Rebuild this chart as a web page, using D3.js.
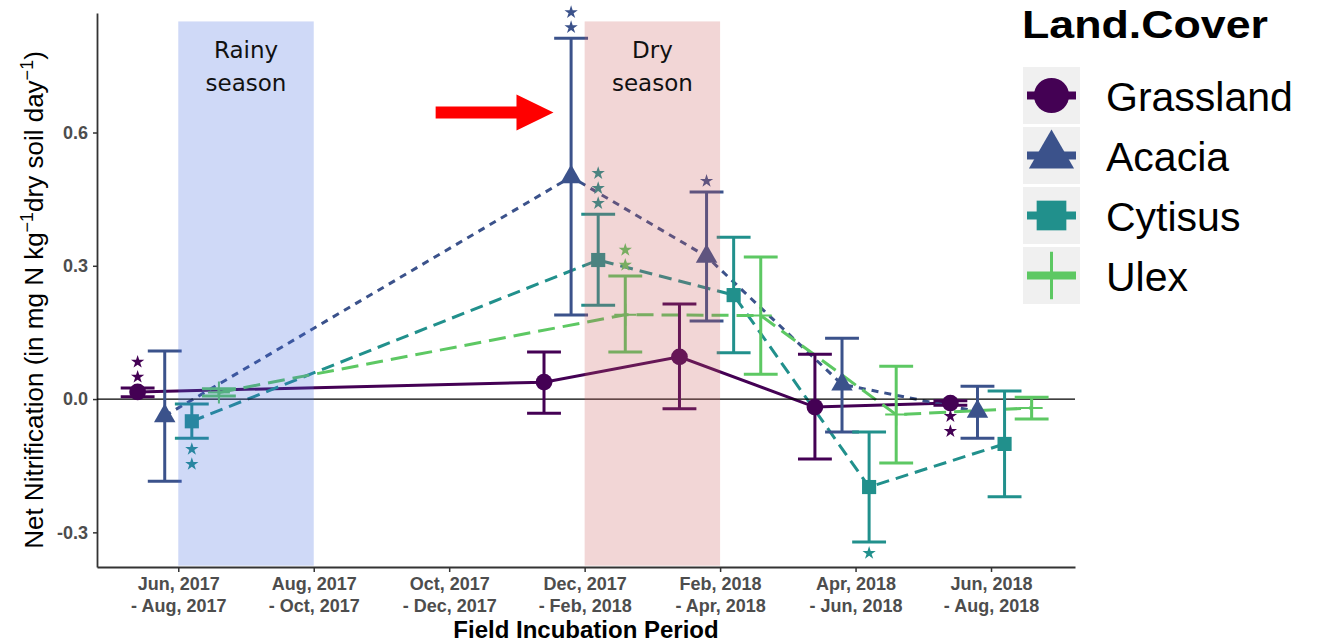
<!DOCTYPE html>
<html>
<head>
<meta charset="utf-8">
<script src="https://cdn.jsdelivr.net/npm/d3@7"></script>
<style>
  html, body { margin: 0; padding: 0; background: #ffffff; }
  svg { display: block; }
</style>
</head>
<body>
<svg id="chart" width="1319" height="643"></svg>
<script>
// Incubation periods (two-line tick labels)
const periodStart = ["Jun, 2017", "Aug, 2017", "Oct, 2017", "Dec, 2017", "Feb, 2018", "Apr, 2018", "Jun, 2018"];
const periodEnd = ["- Aug, 2017", "- Oct, 2017", "- Dec, 2017", "- Feb, 2018", "- Apr, 2018", "- Jun, 2018", "- Aug, 2018"];

// Periods that were actually sampled (index into the period arrays)
const sampledPeriods = [0, 3, 4, 5, 6];

const landCovers = ["Grassland", "Acacia", "Cytisus", "Ulex"];

// Mean net nitrification and error-bar bounds per sampled period
const grasslandMean = [0.016, 0.038, 0.095, -0.018, -0.009];
const grasslandLow  = [0.005, -0.032, -0.022, -0.135, -0.014];
const grasslandHigh = [0.025, 0.106, 0.214, 0.101, -0.004];

const acaciaMean = [-0.038, 0.500, 0.321, 0.033, -0.028];
const acaciaLow  = [-0.185, 0.189, 0.176, -0.074, -0.088];
const acaciaHigh = [0.108, 0.812, 0.466, 0.137, 0.029];

const cytisusMean = [-0.050, 0.313, 0.234, -0.198, -0.101];
const cytisusLow  = [-0.088, 0.211, 0.104, -0.322, -0.220];
const cytisusHigh = [-0.011, 0.416, 0.364, -0.074, 0.018];

const ulexMean = [0.015, 0.190, 0.188, -0.035, -0.020];
const ulexLow  = [0.007, 0.106, 0.056, -0.144, -0.045];
const ulexHigh = [0.023, 0.277, 0.320, 0.074, 0.004];

// Significance stars drawn above / below each error bar
const grasslandStarsAbove = [2, 0, 0, 0, 0];
const grasslandStarsBelow = [0, 0, 0, 0, 2];
const acaciaStarsAbove = [0, 2, 1, 0, 0];
const acaciaStarsBelow = [0, 0, 0, 0, 0];
const cytisusStarsAbove = [0, 3, 0, 0, 0];
const cytisusStarsBelow = [2, 0, 0, 1, 0];
const ulexStarsAbove = [0, 2, 0, 0, 0];
const ulexStarsBelow = [0, 0, 0, 0, 0];

// Seasons shaded on the time axis (period index span)
const seasonNames = [["Rainy", "season"], ["Dry", "season"]];
const seasonFrom = [0, 3];
const seasonTo = [1, 4];

const yTicks = [-0.3, 0.0, 0.3, 0.6];

// ---------------------------------------------------------------
const svg = d3.select("#chart");
const FONT = "'Liberation Sans', Arial, Helvetica, sans-serif";

const x = d3.scaleLinear().domain([-0.6, 6.62]).range([97, 1075]);
const y = d3.scaleLinear().domain([-0.378, 0.869]).range([567, 13]);

const colors = d3.scaleOrdinal().domain(landCovers)
  .range(["#440154", "#3B528B", "#21908C", "#5DC863"]);
const dashes = { Grassland: null, Acacia: "7,6", Cytisus: "13,7", Ulex: "17,8" };
const dodge = d3.scaleBand().domain(landCovers).range([-0.4, 0.4]);

function rows(name, mean, low, high, above, below) {
  return sampledPeriods.map((p, i) => ({
    name, period: p, mean: mean[i], low: low[i], high: high[i],
    above: above[i], below: below[i],
    px: p + dodge(name) + dodge.bandwidth() / 2
  }));
}
const series = [
  { name: "Grassland", values: rows("Grassland", grasslandMean, grasslandLow, grasslandHigh, grasslandStarsAbove, grasslandStarsBelow) },
  { name: "Acacia", values: rows("Acacia", acaciaMean, acaciaLow, acaciaHigh, acaciaStarsAbove, acaciaStarsBelow) },
  { name: "Cytisus", values: rows("Cytisus", cytisusMean, cytisusLow, cytisusHigh, cytisusStarsAbove, cytisusStarsBelow) },
  { name: "Ulex", values: rows("Ulex", ulexMean, ulexLow, ulexHigh, ulexStarsAbove, ulexStarsBelow) }
];
const allPoints = series.flatMap(s => s.values);

// ---- axes ----
const xAxis = svg.append("g")
  .attr("transform", `translate(0,${y.range()[0]})`)
  .call(d3.axisBottom(x).tickValues(d3.range(periodStart.length)).tickSize(5).tickSizeOuter(0).tickFormat(""));
xAxis.select(".domain").attr("stroke", "#333").attr("stroke-width", 1.8);
xAxis.selectAll(".tick line").attr("stroke", "#333").attr("stroke-width", 1.5);
xAxis.selectAll(".tick").append("text")
  .attr("fill", "#4d4d4d")
  .attr("font-family", FONT)
  .attr("font-weight", "bold")
  .attr("font-size", 18)
  .attr("text-anchor", "middle")
  .each(function (d) {
    const t = d3.select(this);
    t.append("tspan").attr("x", 0).attr("y", 23).text(periodStart[d]);
    t.append("tspan").attr("x", 0).attr("y", 45).text(periodEnd[d]);
  });

const yAxis = svg.append("g")
  .attr("transform", `translate(${x.range()[0]},0)`)
  .call(d3.axisLeft(y).tickValues(yTicks).tickSize(4).tickSizeOuter(0).tickPadding(5).tickFormat(d => d.toFixed(1)));
yAxis.select(".domain").attr("stroke", "#333").attr("stroke-width", 1.8);
yAxis.selectAll(".tick line").attr("stroke", "#333").attr("stroke-width", 1.5);
yAxis.selectAll(".tick text")
  .attr("fill", "#4d4d4d")
  .attr("font-family", FONT)
  .attr("font-weight", "bold")
  .attr("font-size", 18);

// axis titles
svg.append("text")
  .attr("x", (x.range()[0] + x.range()[1]) / 2)
  .attr("y", 638)
  .attr("text-anchor", "middle")
  .attr("font-family", FONT)
  .attr("font-weight", "bold")
  .attr("font-size", 24)
  .attr("fill", "#000")
  .text("Field Incubation Period");

const yTitle = svg.append("text")
  .attr("transform", `translate(43,${(y.range()[0] + y.range()[1]) / 2 + 10}) rotate(-90)`)
  .attr("text-anchor", "middle")
  .attr("font-family", FONT)
  .attr("font-size", 26)
  .attr("fill", "#000");
yTitle.append("tspan").text("Net Nitrification (in mg N kg");
yTitle.append("tspan").attr("dy", -10).attr("font-size", 18).text("\u22121");
yTitle.append("tspan").attr("dy", 10).text("dry soil day");
yTitle.append("tspan").attr("dy", -10).attr("font-size", 18).text("\u22121");
yTitle.append("tspan").attr("dy", 10).text(")");

// ---- data layers ----
const plot = svg.append("g");

const line = d3.line().x(d => x(d.px)).y(d => y(d.mean));
plot.selectAll("path.series")
  .data(series)
  .join("path")
  .attr("class", "series")
  .attr("d", d => line(d.values))
  .attr("fill", "none")
  .attr("stroke", d => colors(d.name))
  .attr("stroke-width", 3)
  .attr("stroke-dasharray", d => dashes[d.name]);

// zero reference line
plot.append("line")
  .attr("x1", x.range()[0]).attr("x2", x.range()[1])
  .attr("y1", y(0)).attr("y2", y(0))
  .attr("stroke", "#000").attr("stroke-width", 1.3);

// error bars
const capHalf = 0.125;
const eb = plot.selectAll("g.eb").data(allPoints).join("g").attr("class", "eb")
  .attr("stroke", d => colors(d.name)).attr("stroke-width", 3).attr("fill", "none");
eb.append("line").attr("x1", d => x(d.px)).attr("x2", d => x(d.px))
  .attr("y1", d => y(d.low)).attr("y2", d => y(d.high));
eb.append("line").attr("x1", d => x(d.px - capHalf)).attr("x2", d => x(d.px + capHalf))
  .attr("y1", d => y(d.low)).attr("y2", d => y(d.low));
eb.append("line").attr("x1", d => x(d.px - capHalf)).attr("x2", d => x(d.px + capHalf))
  .attr("y1", d => y(d.high)).attr("y2", d => y(d.high));

// point shapes
function shapePath(name, scale) {
  if (name === "Grassland") return d3.symbol(d3.symbolCircle, 220 * scale * scale)();
  if (name === "Acacia") return d3.symbol(d3.symbolTriangle, 200 * scale * scale)();
  if (name === "Cytisus") return d3.symbol(d3.symbolSquare, 200 * scale * scale)();
  const h = 11 * scale;
  return `M${-h},0H${h}M0,${-h}V${h}`;
}
plot.selectAll("path.pt").data(allPoints).join("path").attr("class", "pt")
  .attr("transform", d => `translate(${x(d.px)},${y(d.mean)})`)
  .attr("d", d => shapePath(d.name, 1))
  .attr("fill", d => d.name === "Ulex" ? "none" : colors(d.name))
  .attr("stroke", d => d.name === "Ulex" ? colors(d.name) : "none")
  .attr("stroke-width", 2);

// significance stars
const starRows = allPoints.flatMap(d => [
  ...d3.range(d.above).map(k => ({ d, k, dir: -1 })),
  ...d3.range(d.below).map(k => ({ d, k, dir: 1 }))
]);
plot.selectAll("path.star").data(starRows).join("path").attr("class", "star")
  .attr("transform", s => {
    const base = s.dir < 0 ? y(s.d.high) : y(s.d.low);
    return `translate(${x(s.d.px)},${base + s.dir * (11 + 15 * s.k)})`;
  })
  .attr("d", d3.symbol(d3.symbolStar, 55)())
  .attr("fill", s => colors(s.d.name));

// ---- season shading (translucent, on top of the data) ----
const seasonRects = svg.append("g");
seasonRects.selectAll("rect").data(seasonFrom).join("rect")
  .attr("x", (d, i) => x(seasonFrom[i]))
  .attr("width", (d, i) => x(seasonTo[i]) - x(seasonFrom[i]))
  .attr("y", y(0.85))
  .attr("height", y(-0.375) - y(0.85))
  .attr("fill", (d, i) => i === 0 ? "#4169e1" : "#cd5c5c")
  .attr("fill-opacity", 0.25);

const seasonLabels = svg.append("g");
seasonNames.forEach((lines, i) => {
  const cx = (x(seasonFrom[i]) + x(seasonTo[i])) / 2;
  lines.forEach((txt, j) => {
    seasonLabels.append("text")
      .attr("x", cx)
      .attr("y", y(0.75) - 8 + j * 33)
      .attr("text-anchor", "middle")
      .attr("font-family", "'DejaVu Sans', Verdana, sans-serif")
      .attr("font-size", 23)
      .attr("fill", "#111")
      .text(txt);
  });
});

// ---- red arrow pointing at the dry-season peak ----
const arrowFrom = [1.9, 0.645];
const arrowTo = [2.77, 0.645];
const ax0 = x(arrowFrom[0]), ax1 = x(arrowTo[0]), ay = y(arrowTo[1]);
const headLen = 37, headHalf = 18, shaftHalf = 6;
svg.append("path")
  .attr("d", `M${ax0},${ay - shaftHalf}H${ax1 - headLen}V${ay - headHalf}L${ax1},${ay}L${ax1 - headLen},${ay + headHalf}V${ay + shaftHalf}H${ax0}Z`)
  .attr("fill", "#ff0000");

// ---- legend ----
const legend = svg.append("g").attr("transform", "translate(1022,0)");
legend.append("text")
  .attr("x", 0).attr("y", 38)
  .attr("font-family", FONT)
  .attr("font-weight", "bold")
  .attr("font-size", 38)
  .attr("textLength", 246)
  .attr("lengthAdjust", "spacingAndGlyphs")
  .attr("fill", "#000")
  .text("Land.Cover");

const keySize = 57, keyGap = 3, keyTop = 67;
const keys = legend.selectAll("g.key").data(landCovers).join("g").attr("class", "key")
  .attr("transform", (d, i) => `translate(1,${keyTop + i * (keySize + keyGap)})`);
keys.append("rect").attr("width", keySize).attr("height", keySize).attr("fill", "#f0f0f0");
keys.append("line")
  .attr("x1", 4).attr("x2", keySize - 4)
  .attr("y1", keySize / 2).attr("y2", keySize / 2)
  .attr("stroke", d => colors(d)).attr("stroke-width", 8);
keys.append("path")
  .attr("transform", `translate(${keySize / 2},${keySize / 2})`)
  .attr("d", d => shapePath(d, d === "Ulex" ? 2.15 : 2.1))
  .attr("fill", d => d === "Ulex" ? "none" : colors(d))
  .attr("stroke", d => d === "Ulex" ? colors(d) : "none")
  .attr("stroke-width", 3);
keys.append("text")
  .attr("x", 83).attr("y", keySize / 2 + 15)
  .attr("font-family", FONT)
  .attr("font-size", 41)
  .attr("fill", "#000")
  .text(d => d);
</script>
</body>
</html>
